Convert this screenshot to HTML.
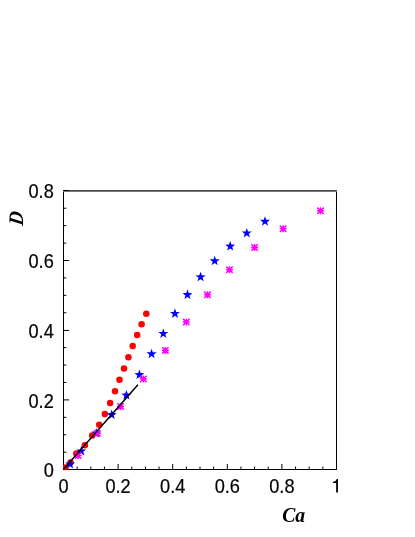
<!DOCTYPE html><html><head><meta charset="utf-8"><title>D vs Ca</title>
<style>html,body{margin:0;padding:0;background:#fff}svg{display:block}text{font-family:"Liberation Sans",sans-serif;font-size:18.2px;fill:#000;stroke:#000;stroke-width:0.2px}.t{stroke:none;font-family:"Liberation Serif",serif;font-weight:bold;font-style:italic;font-size:20px}</style></head><body>
<svg width="415" height="537" viewBox="0 0 415 537">
<rect width="415" height="537" fill="#fff"/>
<g stroke="#000" stroke-width="1" fill="none">
<path d="M63.50 190.30V470.00M336.50 190.30V470.00M63.00 469.50H337.00"/>
</g>
<rect x="63" y="190" width="274" height="1" fill="#4a4a4a"/><rect x="63" y="191" width="274" height="1" fill="#7a7a7a"/>
<path d="M63.50 469.50V464.00M77.15 469.50V466.60M90.80 469.50V466.60M104.45 469.50V466.60M118.10 469.50V464.00M131.75 469.50V466.60M145.40 469.50V466.60M159.05 469.50V466.60M172.70 469.50V464.00M186.35 469.50V466.60M200.00 469.50V466.60M213.65 469.50V466.60M227.30 469.50V464.00M240.95 469.50V466.60M254.60 469.50V466.60M268.25 469.50V466.60M281.90 469.50V464.00M295.55 469.50V466.60M309.20 469.50V466.60M322.85 469.50V466.60M336.50 469.50V464.00M63.50 469.60H69.10M63.50 452.18H66.30M63.50 434.75H66.30M63.50 417.32H66.30M63.50 399.90H69.10M63.50 382.48H66.30M63.50 365.05H66.30M63.50 347.62H66.30M63.50 330.45H69.10M63.50 312.77H66.30M63.50 295.35H66.30M63.50 277.93H66.30M63.50 260.50H69.10M63.50 243.08H66.30M63.50 225.65H66.30M63.50 208.23H66.30M63.50 190.50H69.10" stroke="#000" stroke-width="1" fill="none"/>
<clipPath id="c"><rect x="63" y="190" width="274" height="280"/></clipPath>
<g clip-path="url(#c)">
<g fill="#ff0000"><circle cx="146.30" cy="313.70" r="3.25"/><circle cx="141.60" cy="324.30" r="3.25"/><circle cx="137.20" cy="335.10" r="3.25"/><circle cx="132.70" cy="345.90" r="3.25"/><circle cx="128.40" cy="357.20" r="3.25"/><circle cx="124.00" cy="368.60" r="3.25"/><circle cx="119.50" cy="379.85" r="3.25"/><circle cx="115.00" cy="391.20" r="3.25"/><circle cx="110.10" cy="402.90" r="3.25"/><circle cx="104.80" cy="414.00" r="3.25"/><circle cx="99.20" cy="424.80" r="3.25"/><circle cx="92.20" cy="435.40" r="3.25"/><circle cx="84.90" cy="445.30" r="3.25"/><circle cx="76.30" cy="453.60" r="3.25"/><circle cx="70.50" cy="462.60" r="3.25"/><circle cx="65.40" cy="467.60" r="3.25"/></g>
<g fill="#0000ff"><polygon points="265.00,216.20 266.25,219.78 270.04,219.86 267.02,222.16 268.12,225.79 265.00,223.62 261.88,225.79 262.98,222.16 259.96,219.86 263.75,219.78"/><polygon points="246.75,227.90 248.00,231.48 251.79,231.56 248.77,233.86 249.87,237.49 246.75,235.32 243.63,237.49 244.73,233.86 241.71,231.56 245.50,231.48"/><polygon points="230.20,241.00 231.45,244.58 235.24,244.66 232.22,246.96 233.32,250.59 230.20,248.42 227.08,250.59 228.18,246.96 225.16,244.66 228.95,244.58"/><polygon points="214.70,255.70 215.95,259.28 219.74,259.36 216.72,261.66 217.82,265.29 214.70,263.12 211.58,265.29 212.68,261.66 209.66,259.36 213.45,259.28"/><polygon points="200.60,271.75 201.85,275.33 205.64,275.41 202.62,277.71 203.72,281.34 200.60,279.17 197.48,281.34 198.58,277.71 195.56,275.41 199.35,275.33"/><polygon points="187.50,289.50 188.75,293.08 192.54,293.16 189.52,295.46 190.62,299.09 187.50,296.92 184.38,299.09 185.48,295.46 182.46,293.16 186.25,293.08"/><polygon points="174.95,308.30 176.20,311.88 179.99,311.96 176.97,314.26 178.07,317.89 174.95,315.72 171.83,317.89 172.93,314.26 169.91,311.96 173.70,311.88"/><polygon points="163.30,328.40 164.55,331.98 168.34,332.06 165.32,334.36 166.42,337.99 163.30,335.82 160.18,337.99 161.28,334.36 158.26,332.06 162.05,331.98"/><polygon points="151.55,348.70 152.80,352.28 156.59,352.36 153.57,354.66 154.67,358.29 151.55,356.12 148.43,358.29 149.53,354.66 146.51,352.36 150.30,352.28"/><polygon points="139.40,369.50 140.65,373.08 144.44,373.16 141.42,375.46 142.52,379.09 139.40,376.92 136.28,379.09 137.38,375.46 134.36,373.16 138.15,373.08"/><polygon points="126.40,390.00 127.65,393.58 131.44,393.66 128.42,395.96 129.52,399.59 126.40,397.42 123.28,399.59 124.38,395.96 121.36,393.66 125.15,393.58"/><polygon points="111.70,409.50 112.95,413.08 116.74,413.16 113.72,415.46 114.82,419.09 111.70,416.92 108.58,419.09 109.68,415.46 106.66,413.16 110.45,413.08"/><polygon points="96.30,427.90 97.55,431.48 101.34,431.56 98.32,433.86 99.42,437.49 96.30,435.32 93.18,437.49 94.28,433.86 91.26,431.56 95.05,431.48"/><polygon points="81.30,445.80 82.55,449.38 86.34,449.46 83.32,451.76 84.42,455.39 81.30,453.22 78.18,455.39 79.28,451.76 76.26,449.46 80.05,449.38"/><polygon points="70.10,458.90 71.35,462.48 75.14,462.56 72.12,464.86 73.22,468.49 70.10,466.32 66.98,468.49 68.08,464.86 65.06,462.56 68.85,462.48"/></g>
<g stroke="#ff00ff" stroke-width="1.50" fill="none"><path d="M317.05 210.80H323.95M320.50 207.35V214.25M317.30 207.60L323.70 214.00M317.30 214.00L323.70 207.60"/><path d="M279.65 228.80H286.55M283.10 225.35V232.25M279.90 225.60L286.30 232.00M279.90 232.00L286.30 225.60"/><path d="M251.15 247.50H258.05M254.60 244.05V250.95M251.40 244.30L257.80 250.70M251.40 250.70L257.80 244.30"/><path d="M226.05 269.70H232.95M229.50 266.25V273.15M226.30 266.50L232.70 272.90M226.30 272.90L232.70 266.50"/><path d="M204.05 294.80H210.95M207.50 291.35V298.25M204.30 291.60L210.70 298.00M204.30 298.00L210.70 291.60"/><path d="M182.85 322.10H189.75M186.30 318.65V325.55M183.10 318.90L189.50 325.30M183.10 325.30L189.50 318.90"/><path d="M161.90 350.40H168.80M165.35 346.95V353.85M162.15 347.20L168.55 353.60M162.15 353.60L168.55 347.20"/><path d="M139.95 379.00H146.85M143.40 375.55V382.45M140.20 375.80L146.60 382.20M140.20 382.20L146.60 375.80"/><path d="M117.05 406.45H123.95M120.50 403.00V409.90M117.30 403.25L123.70 409.65M117.30 409.65L123.70 403.25"/><path d="M93.95 433.30H100.85M97.40 429.85V436.75M94.20 430.10L100.60 436.50M94.20 436.50L100.60 430.10"/><path d="M74.65 455.50H81.55M78.10 452.05V458.95M74.90 452.30L81.30 458.70M74.90 458.70L81.30 452.30"/></g>
<line x1="63.30" y1="469.50" x2="137.90" y2="384.80" stroke="#000" stroke-width="1.5"/>
</g>
<g style="opacity:0.999">
<path d="M336.15 492.5V482.95H332.9V481.65C335.2 481.45 336.2 480.6 336.75 478.9H337.95V492.5Z" fill="#000"/>
<text transform="translate(63.50,492.5) scale(1,1.070)" text-anchor="middle">0</text>
<text transform="translate(118.10,492.5) scale(1,1.070)" text-anchor="middle">0.2</text>
<text transform="translate(172.70,492.5) scale(1,1.070)" text-anchor="middle">0.4</text>
<text transform="translate(227.30,492.5) scale(1,1.070)" text-anchor="middle">0.6</text>
<text transform="translate(281.90,492.5) scale(1,1.070)" text-anchor="middle">0.8</text>
<text transform="translate(53.8,477.20) scale(1,1.070)" text-anchor="end">0</text>
<text transform="translate(53.8,407.50) scale(1,1.070)" text-anchor="end">0.2</text>
<text transform="translate(53.8,337.80) scale(1,1.070)" text-anchor="end">0.4</text>
<text transform="translate(53.8,268.10) scale(1,1.070)" text-anchor="end">0.6</text>
<text transform="translate(53.8,198.40) scale(1,1.070)" text-anchor="end">0.8</text>
<text class="t" style="font-size:20.5px" transform="translate(282.2,522.1) scale(0.96,1)">Ca</text>
<text class="t" style="font-size:20.7px" transform="translate(22.8,226.1) rotate(-90) scale(0.93,1) skewX(-8)">D</text>
</g>
</svg></body></html>
